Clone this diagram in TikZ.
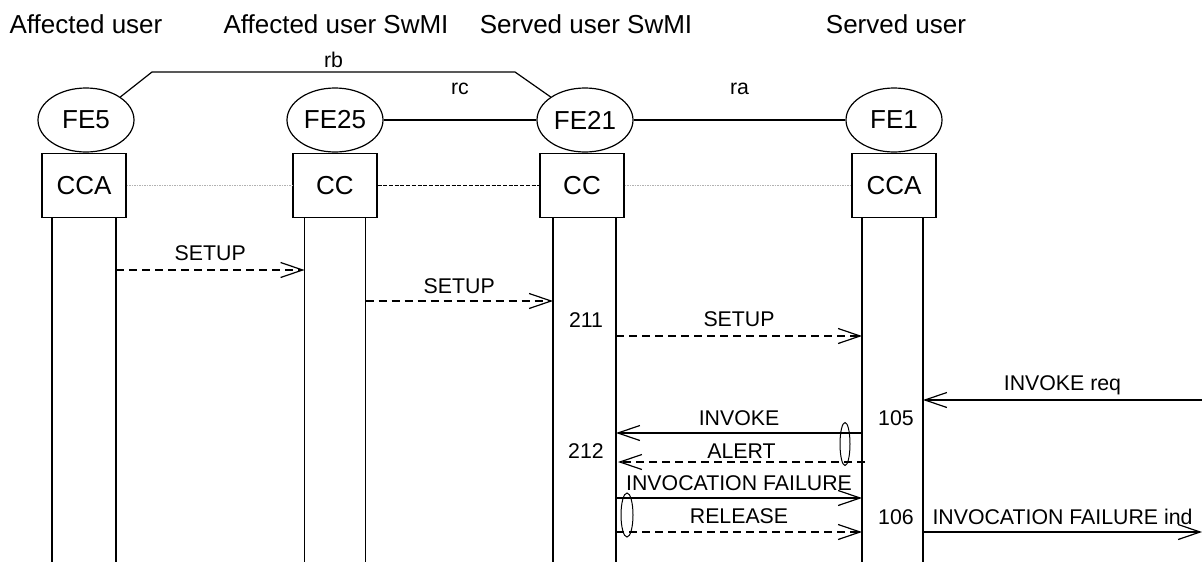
\documentclass[tikz,border=0pt]{standalone}
\usepackage{fontspec}
\setmainfont{Liberation Sans}
\usetikzlibrary{calc,shapes.geometric,arrows.meta}

\begin{document}
\begin{tikzpicture}[x=1pt,y=-1pt,line width=1.2pt,
    FE/.style={draw=black,ellipse,minimum width=96pt,minimum height=64pt,inner sep=0pt,font=\fontsize{26}{30}\selectfont},
    BX/.style={draw=black,rectangle,minimum width=84pt,minimum height=64pt,inner sep=0pt,font=\fontsize{26}{30}\selectfont},
    TT/.style={inner sep=0pt,font=\fontsize{26}{30}\selectfont},
    LB/.style={inner sep=0pt,font=\fontsize{21.3}{25}\selectfont},
    AR/.style={-{Straight Barb[length=22pt,width=15pt]}},
    DA/.style={AR,dash pattern=on 8pt off 5pt},
    GD/.style={draw=gray!60,line width=0.6pt,dash pattern=on 1.5pt off 1pt},
    KD/.style={line width=0.9pt,dash pattern=on 4pt off 1.7pt},
    OV/.style={draw=black,ellipse,line width=1pt,inner sep=0pt}]
        \useasboundingbox (0,0) rectangle (1202,562);
        % Column titles
        \node[TT] (tu5) at (86,24) {Affected user};
        \node[TT] (tu25) at (336,24) {Affected user SwMI};
        \node[TT] (tu21) at (586,24) {Served user SwMI};
        \node[TT] (tu1) at (896,24) {Served user};
        % Functional entities
        \node[FE] (fe5) at (86,120) {FE5};
        \node[FE] (fe25) at (335,120) {FE25};
        \node[FE] (fe21) at (585,120) {FE21};
        \node[FE] (fe1) at (894,120) {FE1};
        % Call control boxes under the entities
        \node[BX,anchor=north] (cca5) at ($(fe5.south)+(-2,0)$) {CCA};
        \node[BX,anchor=north] (cc25) at (fe25.south) {CC};
        \node[BX,anchor=north] (cc21) at ($(fe21.south)+(-3,0)$) {CC};
        \node[BX,anchor=north] (cca1) at (fe1.south) {CCA};
        % Relationships rb, rc, ra
        \coordinate (rb1) at (152,72);
        \coordinate (rb2) at (515,72);
        \draw (fe5.north east) -- (rb1) -- node[LB,midway,yshift=12pt]{rb} (rb2) -- (fe21.north west);
        \draw (fe25.east) -- node[LB,midway,yshift=31pt]{rc} (fe21.west);
        \draw (fe21.east) -- node[LB,midway,yshift=31pt]{ra} (fe1.west);
        % Links between the boxes
        \draw[GD] (cca5.east) -- (cc25.west);
        \draw[KD] (cc25.east) -- (cc21.west);
        \draw[GD] (cc21.east) -- (cca1.west);
        % Lifelines
        \coordinate (bot) at (0,562);
        \coordinate (l5a) at ($(cca5.south)+(-32,0)$);
        \coordinate (l5b) at ($(cca5.south)+(32,0)$);
        \coordinate (l25a) at ($(cc25.south)+(-30.5,0)$);
        \coordinate (l25b) at ($(cc25.south)+(30.5,0)$);
        \coordinate (l21a) at ($(cc21.south)+(-29,0)$);
        \coordinate (l21b) at ($(cc21.south)+(34,0)$);
        \coordinate (l1a) at ($(cca1.south)+(-32,0)$);
        \coordinate (l1b) at ($(cca1.south)+(29,0)$);
        \foreach \l in {l5a,l5b,l25a,l25b,l21a,l21b,l1a,l1b}
            \draw (\l) -- (\l |- bot);
        % Message levels
        \coordinate (m1) at (0,270);
        \coordinate (m2) at (0,301);
        \coordinate (m3) at (0,336);
        \coordinate (m4) at (0,400);
        \coordinate (m5) at (0,433);
        \coordinate (m6) at (0,462);
        \coordinate (m7) at (0,498);
        \coordinate (m8) at (0,532);
        \coordinate (ext1) at (1202,400);
        \coordinate (ext2) at (1202,532);
        % SETUP chain
        \draw[DA] (l5b |- m1) -- node[LB,midway,yshift=17pt]{SETUP} (l25a |- m1);
        \draw[DA] (l25b |- m2) -- node[LB,midway,yshift=15pt]{SETUP} (l21a |- m2);
        \draw[DA] (l21b |- m3) -- node[LB,midway,yshift=17pt]{SETUP} (l1a |- m3);
        % Invocation from the served user
        \draw[AR] (ext1) -- node[LB,midway,yshift=15pt]{INVOKE req} (l1b |- m4);
        \draw[AR] (l1a |- m5) -- node[LB,midway,yshift=15pt]{INVOKE} (l21b |- m5);
        \draw[DA] ($(l1a |- m6)+(3,0)$) -- node[LB,midway,yshift=11pt]{ALERT} ($(l21b |- m6)+(2,0)$);
        \draw[AR] (l21b |- m7) -- node[LB,midway,yshift=15pt]{INVOCATION FAILURE} (l1a |- m7);
        \draw[DA] (l21b |- m8) -- node[LB,midway,yshift=16pt]{RELEASE} (l1a |- m8);
        \draw[AR] (l1b |- m8) -- node[LB,midway,yshift=15pt]{INVOCATION FAILURE ind} (ext2);
        % Grouping ovals
        \node[OV,minimum width=10pt,minimum height=43pt] (ov1) at (845,444) {};
        \node[OV,minimum width=12pt,minimum height=44pt] (ov2) at (627,515) {};
        % State numbers
        \node[LB] (s211) at (586,320) {211};
        \node[LB] (s212) at (586,451) {212};
        \node[LB] (s105) at (896,418) {105};
        \node[LB] (s106) at (896,517) {106};
\end{tikzpicture}
\end{document}
